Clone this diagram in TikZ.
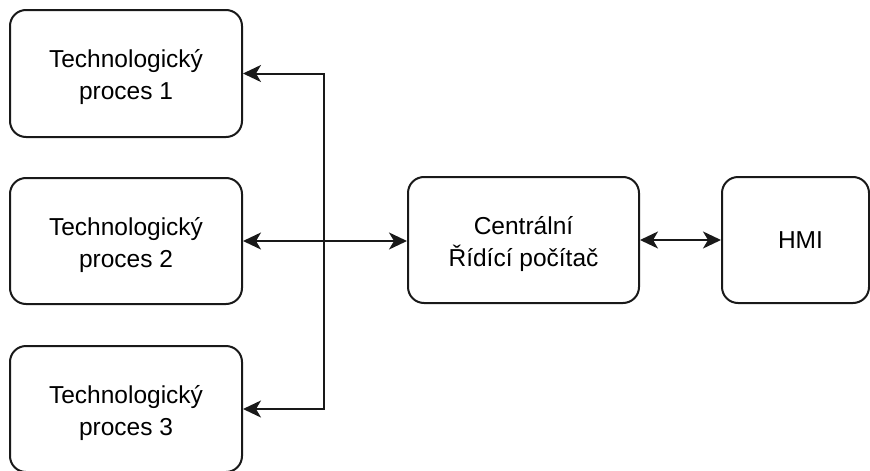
\documentclass[tikz,border=0pt]{standalone}
\usepackage{fontspec}
\setmainfont{Liberation Sans}
\usetikzlibrary{arrows.meta}
\begin{document}
\begin{tikzpicture}[x=1pt,y=-1pt,
  box/.style={draw=black!90, line width=2pt, rounded corners=16pt, fill=white,
    minimum width=#1, inner sep=0pt},
  box/.default=232pt,
  lbl/.style={align=center, inner sep=0pt, font=\fontsize{24.5}{32}\selectfont},
  lbl2/.style={lbl, yshift=-4pt},
  conn/.style={line width=2pt, draw=black!90},
  arrowtip/.tip={Stealth[length=18pt, width=17pt, inset=5pt]}]
\useasboundingbox (0,0) rectangle (870,471);
\node[box=232pt, minimum height=127pt, label={[lbl2]center:Technologický\\proces 1}] (b1) at (126,73.5) {};
\node[box=232pt, minimum height=126pt, label={[lbl2]center:Technologický\\proces 2}] (b2) at (126,241) {};
\node[box=232pt, minimum height=126pt, label={[lbl2]center:Technologický\\proces 3}] (b3) at (126,409) {};
\node[box=231pt, minimum height=126pt, label={[lbl2]center:Centrální\\Řídící počítač}] (c) at (523.5,240) {};
\node[box=147pt, minimum height=126pt, label={[lbl, xshift=5pt]center:HMI}] (h) at (795.5,240) {};
\coordinate (j) at (324,241);
\draw[conn, arrowtip-arrowtip] (b2.east) -- (b2.east -| c.west);
\draw[conn, -arrowtip] (j) |- (b1.east);
\draw[conn, -arrowtip] (j) |- (b3.east);
\draw[conn, arrowtip-arrowtip] (c.east) -- (h.west);
\end{tikzpicture}
\end{document}
